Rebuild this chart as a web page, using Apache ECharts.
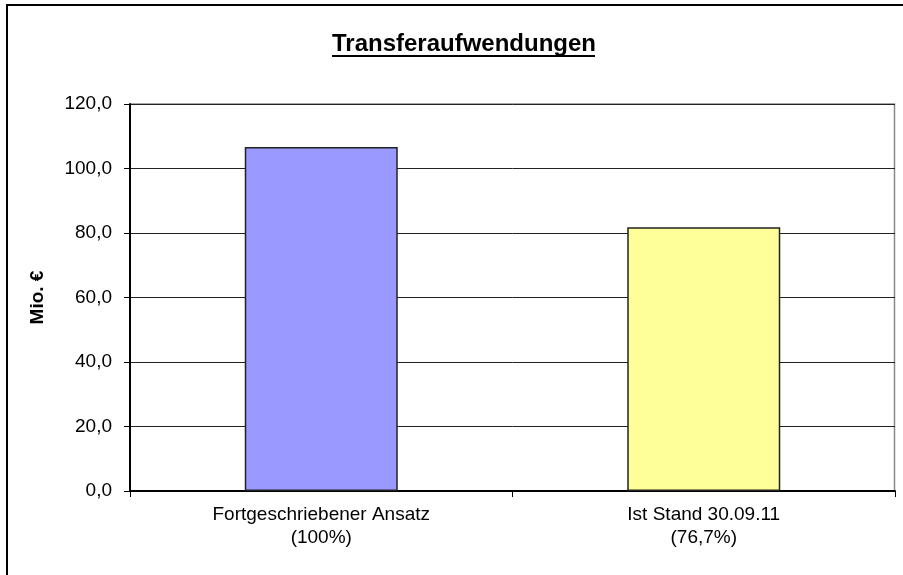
<!DOCTYPE html>
<html>
<head>
<meta charset="utf-8">
<script src="https://cdn.jsdelivr.net/npm/echarts@6/dist/echarts.min.js"></script>
<style>
	html, body { margin: 0; padding: 0; background: #fff; }
	#chart { width: 903px; height: 575px; }
</style>
</head>
<body>
<div id="chart"></div>
<script>
var categories = ['Fortgeschriebener Ansatz\n(100%)', 'Ist Stand 30.09.11\n(76,7%)'];
var values = [106.7, 81.8];
var barColors = ['#9999FF', '#FFFF99'];
var yTicks = { min: 0, max: 120, interval: 20 };

function showChart(id) {
	let data = values.map((v, i) => {
		return {
			value: v,
			itemStyle: { color: barColors[i] }
		}
	});
	let option = {
		animation: false,
		backgroundColor: '#fff',
		title: {
			text: 'Transferaufwendungen',
			left: 459,
			textAlign: 'center',
			top: 27,
			textStyle: {
				fontFamily: 'Liberation Sans',
				fontSize: 24,
				fontWeight: 'bold',
				color: '#000'
			}
		},
		graphic: [
			// outer chart frame (clipped on right and bottom)
			{
				type: 'rect',
				shape: { x: 7, y: 5, width: 1000, height: 1000 },
				style: { fill: 'none', stroke: '#000', lineWidth: 2 },
				silent: true
			},
			// title underline
			{
				type: 'line',
				shape: { x1: 332, y1: 56, x2: 595, y2: 56 },
				style: { stroke: '#000', lineWidth: 2 },
				silent: true
			},
			// plot area border top/right
			{
				type: 'polyline',
				shape: { points: [[130, 104], [894.5, 104], [894.5, 490]] },
				style: { stroke: '#8a8a8a', lineWidth: 1.5, fill: 'none' },
				silent: true
			}
		],
		grid: {
			left: 130,
			right: 8,
			top: 104,
			bottom: 84,
			containLabel: false
		},
		xAxis: {
			type: 'category',
			data: categories,
			axisLine: {
				show: true,
				lineStyle: { color: '#000', width: 2 }
			},
			axisTick: {
				show: true,
				length: 6,
				lineStyle: { color: '#000', width: 1 }
			},
			axisLabel: {
				interval: 0,
				margin: 12,
				fontFamily: 'Liberation Sans',
				fontSize: 19,
				lineHeight: 23,
				color: '#000'
			}
		},
		yAxis: {
			type: 'value',
			min: yTicks.min,
			max: yTicks.max,
			interval: yTicks.interval,
			name: 'Mio. €',
			nameLocation: 'middle',
			nameRotate: 90,
			nameGap: 83,
			nameTextStyle: {
				fontFamily: 'Liberation Sans',
				fontSize: 19,
				fontWeight: 'bold',
				color: '#000'
			},
			axisLine: {
				show: true,
				lineStyle: { color: '#000', width: 2 }
			},
			axisTick: {
				show: true,
				length: 6,
				lineStyle: { color: '#000', width: 1 }
			},
			axisLabel: {
				margin: 18,
				fontFamily: 'Liberation Sans',
				fontSize: 19,
				color: '#000',
				formatter: function(v) {
					return v.toFixed(1).replace('.', ',');
				}
			},
			splitLine: {
				show: true,
				lineStyle: { color: '#222', width: 1 }
			}
		},
		series: {
			type: 'bar',
			data: data,
			barWidth: '40%',
			itemStyle: {
				borderColor: '#222',
				borderWidth: 1.5
			}
		}
	};
	let chart = echarts.init(document.getElementById(id), null, { renderer: 'canvas' });
	chart.setOption(option);
}

showChart('chart');
</script>
</body>
</html>
